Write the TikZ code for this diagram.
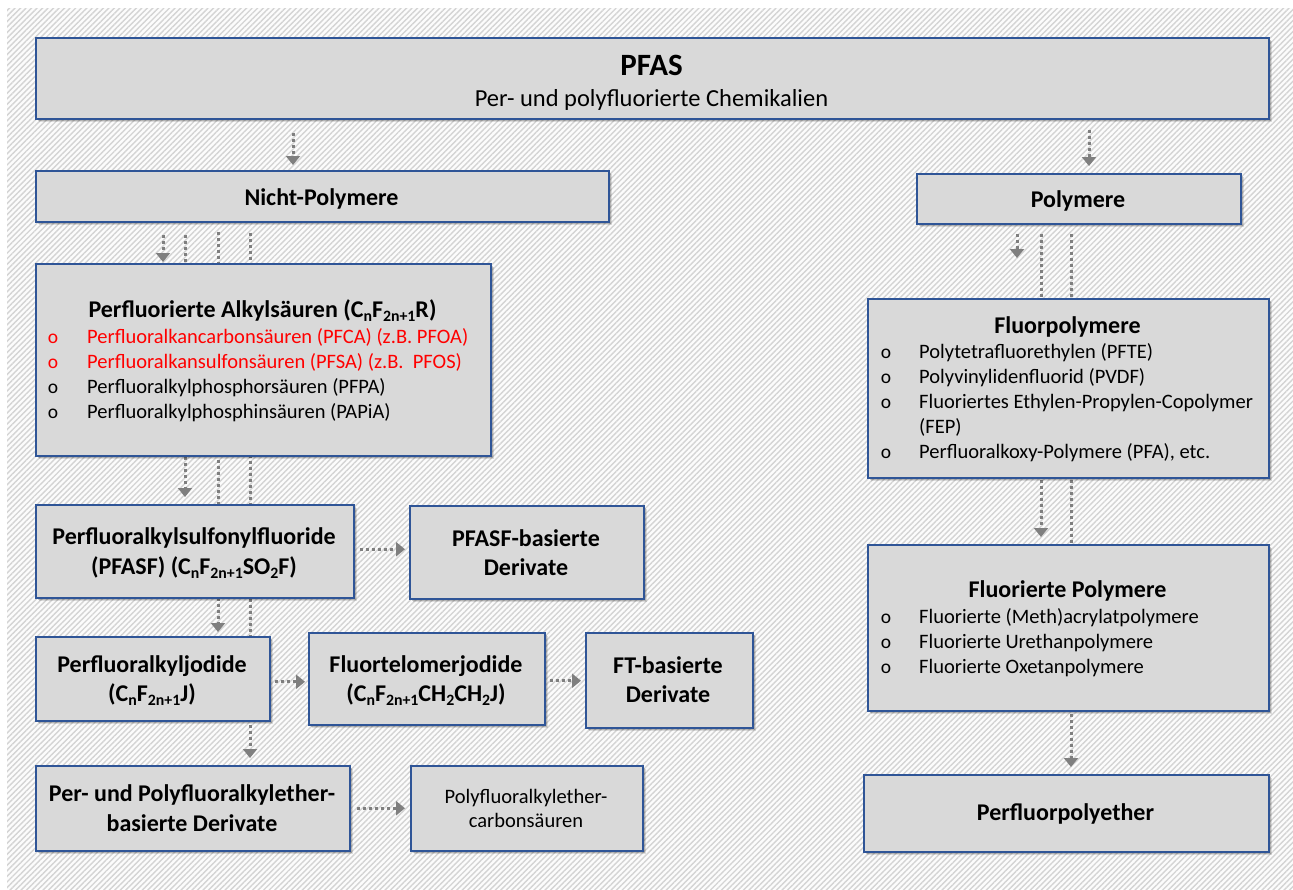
\documentclass[tikz,border=0pt]{standalone}
\usepackage{fontspec}
\setmainfont{Carlito}
\usetikzlibrary{arrows.meta,shadows,patterns.meta,calc}
\pgfdeclarelayer{hatch}
\pgfdeclarelayer{conn}
\pgfsetlayers{hatch,conn,main}
\definecolor{boxfill}{HTML}{D9D9D9}
\definecolor{boxline}{HTML}{2F5597}
\definecolor{arrowgray}{HTML}{7F7F7F}
\definecolor{hatchline}{HTML}{D4D4D4}
\definecolor{hatchbg}{HTML}{FCFCFC}
\definecolor{pfred}{HTML}{FF0000}
\newcommand\sbs[1]{\raisebox{-0.2em}{\scalebox{0.66}{#1}}}
\tikzset{
  box/.style={draw=boxline, line width=1.5pt, fill=boxfill, inner sep=0pt, anchor=north west,
    drop shadow={shadow xshift=3.5pt, shadow yshift=-3.5pt, opacity=0.12, fill=black},
    drop shadow={shadow xshift=2pt, shadow yshift=-2pt, opacity=0.18, fill=black}},
  tt/.style={anchor=base, inner sep=0pt},
  hd/.style={anchor=base, inner sep=0pt, font=\fontsize{24}{29}\selectfont\bfseries},
  li/.style={anchor=base west, inner sep=0pt, font=\fontsize{20.5}{25}\selectfont},
  bu/.style={anchor=base, inner sep=0pt, font=\fontsize{19.5}{20}\selectfont},
  conn/.style={draw=arrowgray, line width=3pt, dash pattern=on 3pt off 3pt},
  arr/.style={conn, -{Triangle[width=14pt,length=9pt]}}
}
\begin{document}
\begin{tikzpicture}[x=1pt,y=-1pt]
\useasboundingbox (0,0) rectangle (1293,889);
\begin{pgfonlayer}{hatch}
  \fill[white] (0,0) rectangle (1293,889);
  \fill[hatchbg] (7,8) rectangle (1293,889);
  \fill[pattern={Lines[angle=45,distance=3.9pt,line width=1.4pt]}, pattern color=hatchline] (7,8) rectangle (1293,889);
\end{pgfonlayer}

% boxes
\node[box, minimum width=1233pt, minimum height=81pt] (pfas) at (35,37) {};
\node[box, minimum width=573pt, minimum height=51pt] (np) at (35,170) {};
\node[box, minimum width=324pt, minimum height=50pt] (poly) at (916,173) {};
\node[box, minimum width=455pt, minimum height=192pt] (alk) at (35,263) {};
\node[box, minimum width=318pt, minimum height=93pt] (pfasf) at (35,504) {};
\node[box, minimum width=234pt, minimum height=93pt] (pfasfd) at (409,505) {};
\node[box, minimum width=234pt, minimum height=84pt] (jod) at (35,636) {};
\node[box, minimum width=236pt, minimum height=92pt] (ftj) at (308,632) {};
\node[box, minimum width=167pt, minimum height=95pt] (ftd) at (585,632) {};
\node[box, minimum width=314pt, minimum height=85pt] (eth) at (35,765) {};
\node[box, minimum width=232pt, minimum height=85pt] (pfe) at (410,765) {};
\node[box, minimum width=401pt, minimum height=179pt] (fp) at (867,298) {};
\node[box, minimum width=401pt, minimum height=166pt] (fpol) at (867,544) {};
\node[box, minimum width=405pt, minimum height=77pt] (pfpe) at (863,774) {};

% lanes
\coordinate (lA) at (163,0);
\coordinate (lB) at (185,0);
\coordinate (lC) at (218,0);
\coordinate (lD) at (250,0);
\coordinate (lP) at (293,0);
\coordinate (lQ) at (1089,0);
\coordinate (lR) at (1017,0);
\coordinate (lS) at (1041,0);
\coordinate (lT) at (1071,0);
\coordinate (polyEnd) at (1017,258);

\begin{pgfonlayer}{conn}
  \draw[arr] ($(pfas.south -| lP)+(0,13)$) -- ($(np.north -| lP)+(0,-5)$);
  \draw[arr] ($(pfas.south -| lQ)+(0,10)$) -- ($(poly.north -| lQ)+(0,-7)$);
  \draw[arr] ($(np.south -| lA)+(0,12)$) -- ($(alk.north -| lA)+(0,-1)$);
  \draw[arr] ($(np.south -| lB)+(0,12)$) -- ($(pfasf.north -| lB)+(0,-7)$);
  \draw[arr] ($(np.south -| lC)+(0,9)$) -- ($(jod.north -| lC)+(0,-4)$);
  \draw[arr] ($(np.south -| lD)+(0,10)$) -- ($(eth.north -| lD)+(0,-7)$);
  \draw[arr] ($(pfasf.east)+(5,-2)$) -- ($(pfasf.east -| pfasfd.west)+(-4,-2)$);
  \draw[arr] ($(jod.east)+(4,3)$) -- ($(jod.east -| ftj.west)+(-3,3)$);
  \draw[arr] ($(ftj.east)+(4,2)$) -- ($(ftj.east -| ftd.west)+(-4,2)$);
  \draw[arr] ($(eth.east)+(6,0)$) -- ($(eth.east -| pfe.west)+(-5,0)$);
  \draw[arr] ($(poly.south -| lR)+(0,9)$) -- (polyEnd);
  \draw[arr] ($(poly.south -| lS)+(0,9)$) -- ($(fpol.north -| lS)+(0,-7)$);
  \draw[arr] ($(poly.south -| lT)+(0,9)$) -- ($(pfpe.north -| lT)+(0,-7)$);
\end{pgfonlayer}

% texts
\node[tt, font=\fontsize{31}{36}\selectfont\bfseries] (pfasT) at (651.5,75) {PFAS};
\node[tt, font=\fontsize{24.5}{29}\selectfont] (pfasS) at (651.5,106) {Per- und polyfluorierte Chemikalien};
\node[hd] (npT) at (321.5,205) {Nicht-Polymere};
\node[hd] (polyT) at (1078,207) {Polymere};

\node[hd] (alkT) at (262.5,317) {Perfluorierte Alkylsäuren (C\sbs{n}F\sbs{2n+1}R)};
\node[bu, text=pfred] (alkB1) at (53,343) {o};
\node[li, text=pfred] (alkI1) at (87,343) {Perfluoralkancarbonsäuren (PFCA) (z.B. PFOA)};
\node[bu, text=pfred] (alkB2) at (53,368) {o};
\node[li, text=pfred] (alkI2) at (87,368) {Perfluoralkansulfonsäuren (PFSA) (z.B.\ \ PFOS)};
\node[bu] (alkB3) at (53,393) {o};
\node[li] (alkI3) at (87,393) {Perfluoralkylphosphorsäuren (PFPA)};
\node[bu] (alkB4) at (53,418) {o};
\node[li] (alkI4) at (87,418) {Perfluoralkylphosphinsäuren (PAPiA)};

\node[hd] (pfasfT1) at (194,544) {Perfluoralkylsulfonylfluoride};
\node[hd] (pfasfT2) at (194,574) {(PFASF) (C\sbs{n}F\sbs{2n+1}SO\sbs{2}F)};
\node[hd] (pfasfdT1) at (526,546) {PFASF-basierte};
\node[hd] (pfasfdT2) at (526,575) {Derivate};

\node[hd] (jodT1) at (152,672) {Perfluoralkyljodide};
\node[hd] (jodT2) at (152,701) {(C\sbs{n}F\sbs{2n+1}J)};
\node[hd] (ftjT1) at (426,672) {Fluortelomerjodide};
\node[hd] (ftjT2) at (426,701) {(C\sbs{n}F\sbs{2n+1}CH\sbs{2}CH\sbs{2}J)};
\node[hd] (ftdT1) at (668,673) {FT-basierte};
\node[hd] (ftdT2) at (668,702) {Derivate};

\node[hd] (ethT1) at (192,801) {Per- und Polyfluoralkylether-};
\node[hd] (ethT2) at (192,831) {basierte Derivate};
\node[tt, font=\fontsize{20.5}{25}\selectfont] (pfeT1) at (526,803) {Polyfluoralkylether-};
\node[tt, font=\fontsize{20.5}{25}\selectfont] (pfeT2) at (526,827) {carbonsäuren};

\node[hd] (fpT) at (1067.5,333) {Fluorpolymere};
\node[bu] (fpB1) at (886,358) {o};
\node[li] (fpI1) at (919,358) {Polytetrafluorethylen (PFTE)};
\node[bu] (fpB2) at (886,383) {o};
\node[li] (fpI2) at (919,383) {Polyvinylidenfluorid (PVDF)};
\node[bu] (fpB3) at (886,408) {o};
\node[li] (fpI3) at (919,408) {Fluoriertes Ethylen-Propylen-Copolymer};
\node[li] (fpI3b) at (919,433) {(FEP)};
\node[bu] (fpB4) at (886,458) {o};
\node[li] (fpI4) at (919,458) {Perfluoralkoxy-Polymere (PFA), etc.};

\node[hd] (fpolT) at (1067.5,597) {Fluorierte Polymere};
\node[bu] (fpolB1) at (886,623) {o};
\node[li] (fpolI1) at (919,623) {Fluorierte (Meth)acrylatpolymere};
\node[bu] (fpolB2) at (886,648) {o};
\node[li] (fpolI2) at (919,648) {Fluorierte Urethanpolymere};
\node[bu] (fpolB3) at (886,673) {o};
\node[li] (fpolI3) at (919,673) {Fluorierte Oxetanpolymere};

\node[hd] (pfpeT) at (1065.5,820) {Perfluorpolyether};
\end{tikzpicture}
\end{document}
